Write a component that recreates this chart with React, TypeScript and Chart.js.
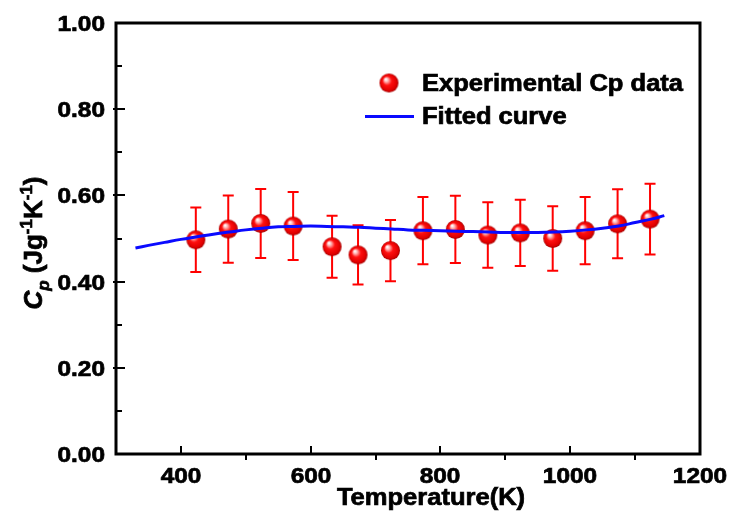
import React, { useEffect, useRef } from "react";
import { Chart, registerables } from "chart.js";

Chart.register(...registerables);

// ---- data ----
const temps = [423, 473, 523, 573, 633, 673, 723, 773, 823, 873, 923, 973, 1023, 1073, 1123];
const cpValues = [0.497, 0.522, 0.535, 0.529, 0.481, 0.462, 0.472, 0.518, 0.521, 0.508, 0.513, 0.5, 0.518, 0.534, 0.545];
const cpErrors = [0.075, 0.078, 0.08, 0.079, 0.072, 0.069, 0.071, 0.078, 0.078, 0.076, 0.077, 0.075, 0.078, 0.08, 0.082];

const fitTemps = [330, 350, 375, 400, 425, 450, 475, 500, 525, 550, 575, 600, 625, 650, 675, 700, 725, 750, 775, 800, 825, 850, 875, 900, 925, 950, 975, 1000, 1025, 1050, 1075, 1100, 1125, 1145];
const fitValues = [0.478, 0.484, 0.491, 0.498, 0.504, 0.51, 0.515, 0.52, 0.524, 0.527, 0.528, 0.529, 0.528, 0.527, 0.526, 0.524, 0.522, 0.52, 0.519, 0.518, 0.517, 0.516, 0.515, 0.514, 0.514, 0.514, 0.515, 0.517, 0.52, 0.524, 0.529, 0.537, 0.545, 0.553];

const xMajorTicks = [400, 600, 800, 1000, 1200];
const xMinorTicks = [500, 700, 900, 1100];
const yMajorTicks = [0, 0.2, 0.4, 0.6, 0.8, 1.0];
const yMinorTicks = [0.1, 0.3, 0.5, 0.7, 0.9];

const xTitle = "Temperature(K)";
const legendPoints = "Experimental Cp data";
const legendLine = "Fitted curve";

const FONT = '"Liberation Sans", Arial, sans-serif';
const STRETCH = 1.11;
const RED = "#ff0000";
const BLUE = "#0a0aff";

function makeSphere(r: number): HTMLCanvasElement {
  const c = document.createElement("canvas");
  const s = Math.ceil(r * 2 + 2);
  c.width = s;
  c.height = s;
  const g = c.getContext("2d")!;
  const cx = s / 2;
  const cy = s / 2;
  const grad = g.createRadialGradient(cx - r * 0.35, cy - r * 0.4, r * 0.05, cx, cy, r);
  grad.addColorStop(0, "#ffffff");
  grad.addColorStop(0.18, "#ffb0b0");
  grad.addColorStop(0.45, "#ff1010");
  grad.addColorStop(0.85, "#e00000");
  grad.addColorStop(1, "#a00000");
  g.fillStyle = grad;
  g.beginPath();
  g.arc(cx, cy, r, 0, Math.PI * 2);
  g.fill();
  return c;
}

function stretchedText(ctx: CanvasRenderingContext2D, text: string, x: number, y: number, align: CanvasTextAlign, font: string) {
  ctx.save();
  ctx.translate(x, y);
  ctx.scale(STRETCH, 1);
  ctx.font = font;
  ctx.textAlign = align;
  ctx.textBaseline = "alphabetic";
  ctx.fillStyle = "#000";
  ctx.strokeStyle = "#000";
  ctx.lineWidth = 0.7;
  ctx.fillText(text, 0, 0);
  ctx.strokeText(text, 0, 0);
  ctx.restore();
}

export default function App() {
  const ref = useRef<HTMLCanvasElement | null>(null);

  useEffect(() => {
    if (!ref.current) return;
    const sphere = makeSphere(9.5);

    const errorBars = {
      id: "errorBars",
      beforeDatasetsDraw(chart: any) {
        const ctx = chart.ctx as CanvasRenderingContext2D;
        const xs = chart.scales.x;
        const ys = chart.scales.y;
        ctx.save();
        ctx.strokeStyle = RED;
        ctx.lineWidth = 2;
        temps.forEach((t, i) => {
          const px = xs.getPixelForValue(t);
          const top = ys.getPixelForValue(cpValues[i] + cpErrors[i]);
          const bot = ys.getPixelForValue(cpValues[i] - cpErrors[i]);
          ctx.beginPath();
          ctx.moveTo(px, top);
          ctx.lineTo(px, bot);
          ctx.moveTo(px - 5.5, top);
          ctx.lineTo(px + 5.5, top);
          ctx.moveTo(px - 5.5, bot);
          ctx.lineTo(px + 5.5, bot);
          ctx.stroke();
        });
        ctx.restore();
      },
    };

    const decorations = {
      id: "decorations",
      afterDraw(chart: any) {
        const ctx = chart.ctx as CanvasRenderingContext2D;
        const a = chart.chartArea;
        const xs = chart.scales.x;
        const ys = chart.scales.y;
        ctx.save();
        // frame
        ctx.strokeStyle = "#000";
        ctx.lineWidth = 3;
        ctx.strokeRect(a.left, a.top, a.right - a.left, a.bottom - a.top);
        // x ticks
        ctx.lineWidth = 2;
        xMajorTicks.forEach((v) => {
          const px = Math.round(xs.getPixelForValue(v));
          if (v < 1200) {
            ctx.beginPath();
            ctx.moveTo(px, a.bottom);
            ctx.lineTo(px, a.bottom - 8);
            ctx.stroke();
          }
          stretchedText(ctx, String(v), px, a.bottom + 29, "center", `bold 22px ${FONT}`);
        });
        xMinorTicks.forEach((v) => {
          const px = Math.round(xs.getPixelForValue(v));
          ctx.beginPath();
          ctx.moveTo(px, a.bottom);
          ctx.lineTo(px, a.bottom + 6);
          ctx.stroke();
        });
        // y ticks
        yMajorTicks.forEach((v) => {
          const py = Math.round(ys.getPixelForValue(v));
          if (v > 0 && v < 1) {
            ctx.beginPath();
            ctx.moveTo(a.left - 3, py);
            ctx.lineTo(a.left + 9, py);
            ctx.stroke();
          }
          stretchedText(ctx, v.toFixed(2), 105, py + 8, "right", `bold 22px ${FONT}`);
        });
        yMinorTicks.forEach((v) => {
          const py = Math.round(ys.getPixelForValue(v));
          ctx.beginPath();
          ctx.moveTo(a.left, py);
          ctx.lineTo(a.left + 6, py);
          ctx.stroke();
        });
        // x title
        stretchedText(ctx, xTitle, (a.left + a.right) / 2 + 23, 505, "center", `bold 23px ${FONT}`);

        // y title (rich text, rotated)
        const parts = [
          { t: "C", f: `italic bold 26px ${FONT}`, dy: 0 },
          { t: "p", f: `italic bold 17px ${FONT}`, dy: 7 },
          { t: " (Jg", f: `bold 26px ${FONT}`, dy: 0 },
          { t: "-1", f: `bold 17px ${FONT}`, dy: -10 },
          { t: "K", f: `bold 26px ${FONT}`, dy: 0 },
          { t: "-1", f: `bold 17px ${FONT}`, dy: -10 },
          { t: ")", f: `bold 26px ${FONT}`, dy: 0 },
        ];
        let total = 0;
        parts.forEach((p) => {
          ctx.font = p.f;
          total += ctx.measureText(p.t).width;
        });
        ctx.save();
        ctx.translate(33, 243);
        ctx.scale(1.0, 1);
        ctx.rotate(-Math.PI / 2);
        ctx.fillStyle = "#000";
        ctx.strokeStyle = "#000";
        ctx.lineWidth = 0.7;
        ctx.textBaseline = "alphabetic";
        ctx.textAlign = "left";
        let cx = -total / 2;
        parts.forEach((p) => {
          ctx.font = p.f;
          ctx.fillText(p.t, cx, 9 + p.dy);
          ctx.strokeText(p.t, cx, 9 + p.dy);
          cx += ctx.measureText(p.t).width;
        });
        ctx.restore();

        // legend
        ctx.drawImage(sphere, 389 - sphere.width / 2, 83 - sphere.height / 2);
        stretchedText(ctx, legendPoints, 422, 91, "left", `bold 23px ${FONT}`);
        ctx.strokeStyle = BLUE;
        ctx.lineWidth = 3;
        ctx.beginPath();
        ctx.moveTo(365, 116.5);
        ctx.lineTo(414, 116.5);
        ctx.stroke();
        stretchedText(ctx, legendLine, 422, 123.5, "left", `bold 23px ${FONT}`);
        ctx.restore();
      },
    };

    const chart = new Chart(ref.current, {
      type: "scatter",
      data: {
        datasets: [
          {
            type: "line",
            label: legendLine,
            data: fitTemps.map((t, i) => ({ x: t, y: fitValues[i] })),
            borderColor: BLUE,
            borderWidth: 3,
            pointRadius: 0,
            tension: 0.4,
            fill: false,
            order: 0,
          } as any,
          {
            type: "scatter",
            label: legendPoints,
            data: temps.map((t, i) => ({ x: t, y: cpValues[i] })),
            pointStyle: sphere as any,
            pointRadius: 9.5,
            order: 1,
          },
        ],
      },
      options: {
        animation: false,
        responsive: false,
        events: [],
        layout: { padding: { left: 116, top: 23, right: 31, bottom: 59 } },
        plugins: { legend: { display: false }, tooltip: { enabled: false } },
        scales: {
          x: { type: "linear", min: 300, max: 1200, display: false },
          y: { type: "linear", min: 0, max: 1, display: false },
        },
      },
      plugins: [errorBars, decorations],
    });
    return () => chart.destroy();
  }, []);

  return (
    <div style={{ position: "fixed", left: 0, top: 0, width: 731, height: 513, background: "#fff" }}>
      <canvas ref={ref} width={731} height={513} style={{ width: 731, height: 513, display: "block" }} />
    </div>
  );
}
